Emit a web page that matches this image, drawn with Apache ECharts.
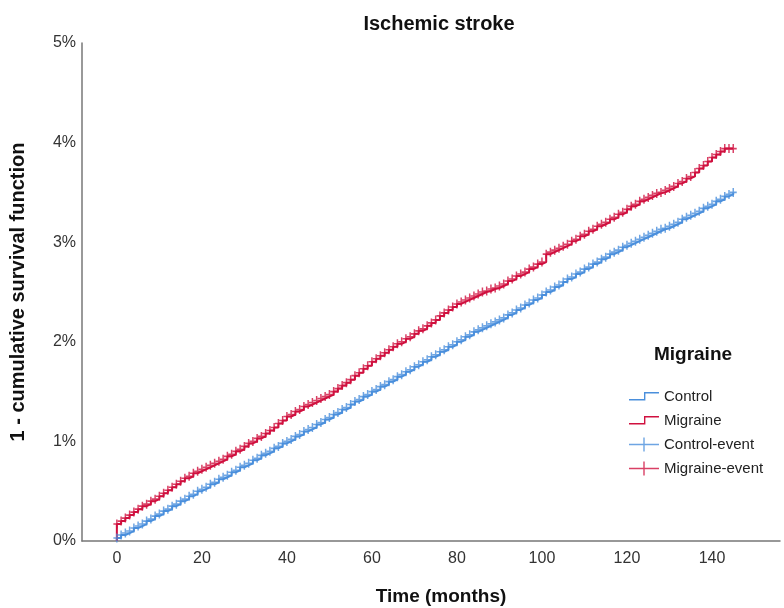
<!DOCTYPE html>
<html>
<head>
<meta charset="utf-8">
<script src="https://cdn.jsdelivr.net/npm/echarts@6/dist/echarts.min.js"></script>
<style>
  html, body { margin: 0; padding: 0; background: #fff; }
  #main { width: 784px; height: 608px; }
</style>
</head>
<body>
<div id="main"></div>
<script>
// 数据：月份 0..145，每月一个估读值（%）
var xTicks = [0, 20, 40, 60, 80, 100, 120, 140];
var yTicks = [0, 1, 2, 3, 4, 5];

var controlRisk = [
  0.03,
  0.06, 0.08, 0.10, 0.13, 0.15,
  0.17, 0.20, 0.22, 0.25, 0.27,
  0.30, 0.32, 0.35, 0.37, 0.40,
  0.42, 0.45, 0.47, 0.50, 0.52,
  0.54, 0.57, 0.59, 0.62, 0.64,
  0.66, 0.69, 0.71, 0.74, 0.76,
  0.78, 0.81, 0.83, 0.86, 0.88,
  0.90, 0.93, 0.95, 0.98, 1.00,
  1.02, 1.05, 1.07, 1.10, 1.12,
  1.14, 1.17, 1.19, 1.22, 1.24,
  1.27, 1.29, 1.32, 1.34, 1.37,
  1.40, 1.42, 1.45, 1.47, 1.50,
  1.52, 1.55, 1.57, 1.60, 1.62,
  1.65, 1.67, 1.70, 1.72, 1.75,
  1.77, 1.80, 1.82, 1.85, 1.87,
  1.90, 1.92, 1.95, 1.97, 2.00,
  2.02, 2.05, 2.07, 2.10, 2.12,
  2.14, 2.16, 2.18, 2.20, 2.22,
  2.24, 2.27, 2.29, 2.32, 2.34,
  2.37, 2.39, 2.42, 2.44, 2.47,
  2.50, 2.52, 2.55, 2.57, 2.60,
  2.63, 2.65, 2.68, 2.70, 2.73,
  2.75, 2.78, 2.80, 2.83, 2.85,
  2.88, 2.90, 2.92, 2.95, 2.97,
  2.99, 3.01, 3.03, 3.05, 3.07,
  3.09, 3.11, 3.13, 3.14, 3.16,
  3.18, 3.20, 3.23, 3.25, 3.27,
  3.29, 3.31, 3.34, 3.36, 3.38,
  3.41, 3.43, 3.46, 3.48, 3.50
];

var migraineRisk = [
  0.17,
  0.20, 0.23, 0.26, 0.29, 0.32,
  0.35, 0.37, 0.40, 0.42, 0.45,
  0.48, 0.51, 0.54, 0.57, 0.60,
  0.63, 0.65, 0.68, 0.70, 0.72,
  0.74, 0.76, 0.78, 0.80, 0.82,
  0.85, 0.87, 0.90, 0.92, 0.95,
  0.98, 1.00, 1.03, 1.05, 1.08,
  1.11, 1.14, 1.18, 1.21, 1.25,
  1.27, 1.30, 1.32, 1.35, 1.37,
  1.39, 1.41, 1.43, 1.45, 1.47,
  1.50, 1.53, 1.56, 1.59, 1.62,
  1.66, 1.69, 1.73, 1.76, 1.80,
  1.83, 1.86, 1.89, 1.92, 1.95,
  1.98, 2.00, 2.03, 2.05, 2.08,
  2.11, 2.13, 2.16, 2.19, 2.22,
  2.26, 2.29, 2.32, 2.35, 2.38,
  2.40, 2.42, 2.44, 2.46, 2.48,
  2.50, 2.51, 2.53, 2.54, 2.56,
  2.58, 2.61, 2.63, 2.66, 2.68,
  2.70, 2.73, 2.75, 2.78, 2.80,
  2.88, 2.90, 2.92, 2.94, 2.96,
  2.98, 3.01, 3.03, 3.06, 3.08,
  3.11, 3.13, 3.16, 3.18, 3.20,
  3.23, 3.25, 3.28, 3.30, 3.33,
  3.36, 3.38, 3.41, 3.43, 3.45,
  3.47, 3.49, 3.50, 3.52, 3.54,
  3.56, 3.59, 3.61, 3.64, 3.66,
  3.70, 3.74, 3.77, 3.81, 3.85,
  3.88, 3.91, 3.94, 3.94, 3.94
];

var BLUE = '#4a8fdc';
var RED = '#d0103f';
var FONT = 'Liberation Sans, Arial, sans-serif';

function toPoints(arr) {
  return arr.map(function (v, i) { return [i, v]; });
}
var controlPts = toPoints(controlRisk);
var migrainePts = toPoints(migraineRisk);

var plusSymbol = 'path://M3,0h1.6v9h-1.6z M0,3.7h7.6v1.6h-7.6z';
var stepIcon = 'path://M0,0h0.01v0.01h-0.01z M30,14h0.01v0.01h-0.01z M0,9.6h15v-7h15v1.4h-13.6v7h-16.4z';
var plusIcon = 'path://M0,6.3h30v1.4h-30z M14.3,0h1.4v14h-1.4z';

var myChart = echarts.init(document.getElementById('main'));

var option = {
  animation: false,
  backgroundColor: '#fff',
  grid: { left: 82, right: 4, top: 43, bottom: 67, containLabel: false, outerBoundsMode: 'none' },
  xAxis: {
    type: 'value',
    min: -8.2,
    max: 156,
    axisLine: { show: true, onZero: false, lineStyle: { color: '#777', width: 1.5 } },
    axisTick: { show: false },
    splitLine: { show: false },
    axisLabel: {
      customValues: xTicks,
      color: '#333',
      fontSize: 16,
      fontFamily: FONT,
      margin: 10
    }
  },
  yAxis: {
    type: 'value',
    min: 0,
    max: 5,
    interval: 1,
    name: '1 - cumulative survival function',
    nameLocation: 'middle',
    nameGap: 54,
    nameTextStyle: { fontSize: 20, fontWeight: 'bold', color: '#111', fontFamily: FONT },
    axisLine: { show: true, onZero: false, lineStyle: { color: '#777', width: 1.5 } },
    axisTick: { show: false },
    splitLine: { show: false },
    axisLabel: {
      formatter: '{value}%',
      color: '#333',
      fontSize: 16,
      fontFamily: FONT,
      margin: 6
    }
  },
  legend: {
    orient: 'vertical',
    left: 624,
    top: 384,
    itemWidth: 30,
    itemHeight: 14,
    itemGap: 9,
    selectedMode: false,
    textStyle: { fontSize: 15, color: '#222', fontFamily: FONT },
    data: [
      { name: 'Control', icon: stepIcon },
      { name: 'Migraine', icon: stepIcon },
      { name: 'Control-event', icon: plusIcon },
      { name: 'Migraine-event', icon: plusIcon }
    ]
  },
  graphic: [
    { type: 'text', x: 439, y: 24, style: { text: 'Ischemic stroke', fontSize: 20, fontWeight: 'bold', fill: '#111', fontFamily: FONT, textAlign: 'center', textVerticalAlign: 'middle' } },
    { type: 'text', x: 693, y: 355, style: { text: 'Migraine', fontSize: 19, fontWeight: 'bold', fill: '#111', fontFamily: FONT, textAlign: 'center', textVerticalAlign: 'middle' } },
    { type: 'text', x: 441, y: 597, style: { text: 'Time (months)', fontSize: 19, fontWeight: 'bold', fill: '#111', fontFamily: FONT, textAlign: 'center', textVerticalAlign: 'middle' } }
  ],
  series: [
    {
      name: 'Control',
      type: 'line',
      step: 'end',
      showSymbol: false,
      color: BLUE,
      lineStyle: { width: 2, color: BLUE },
      data: [[0, 0]].concat(controlPts),
      z: 2
    },
    {
      name: 'Migraine',
      type: 'line',
      step: 'end',
      showSymbol: false,
      color: RED,
      lineStyle: { width: 2, color: RED },
      data: [[0, 0]].concat(migrainePts),
      z: 2
    },
    {
      name: 'Control-event',
      type: 'scatter',
      symbol: plusSymbol,
      symbolSize: [7, 9],
      color: BLUE,
      itemStyle: { color: BLUE },
      data: controlPts,
      z: 3
    },
    {
      name: 'Migraine-event',
      type: 'scatter',
      symbol: plusSymbol,
      symbolSize: [7, 9],
      color: RED,
      itemStyle: { color: RED },
      data: migrainePts,
      z: 3
    }
  ]
};

myChart.setOption(option);
</script>
</body>
</html>
